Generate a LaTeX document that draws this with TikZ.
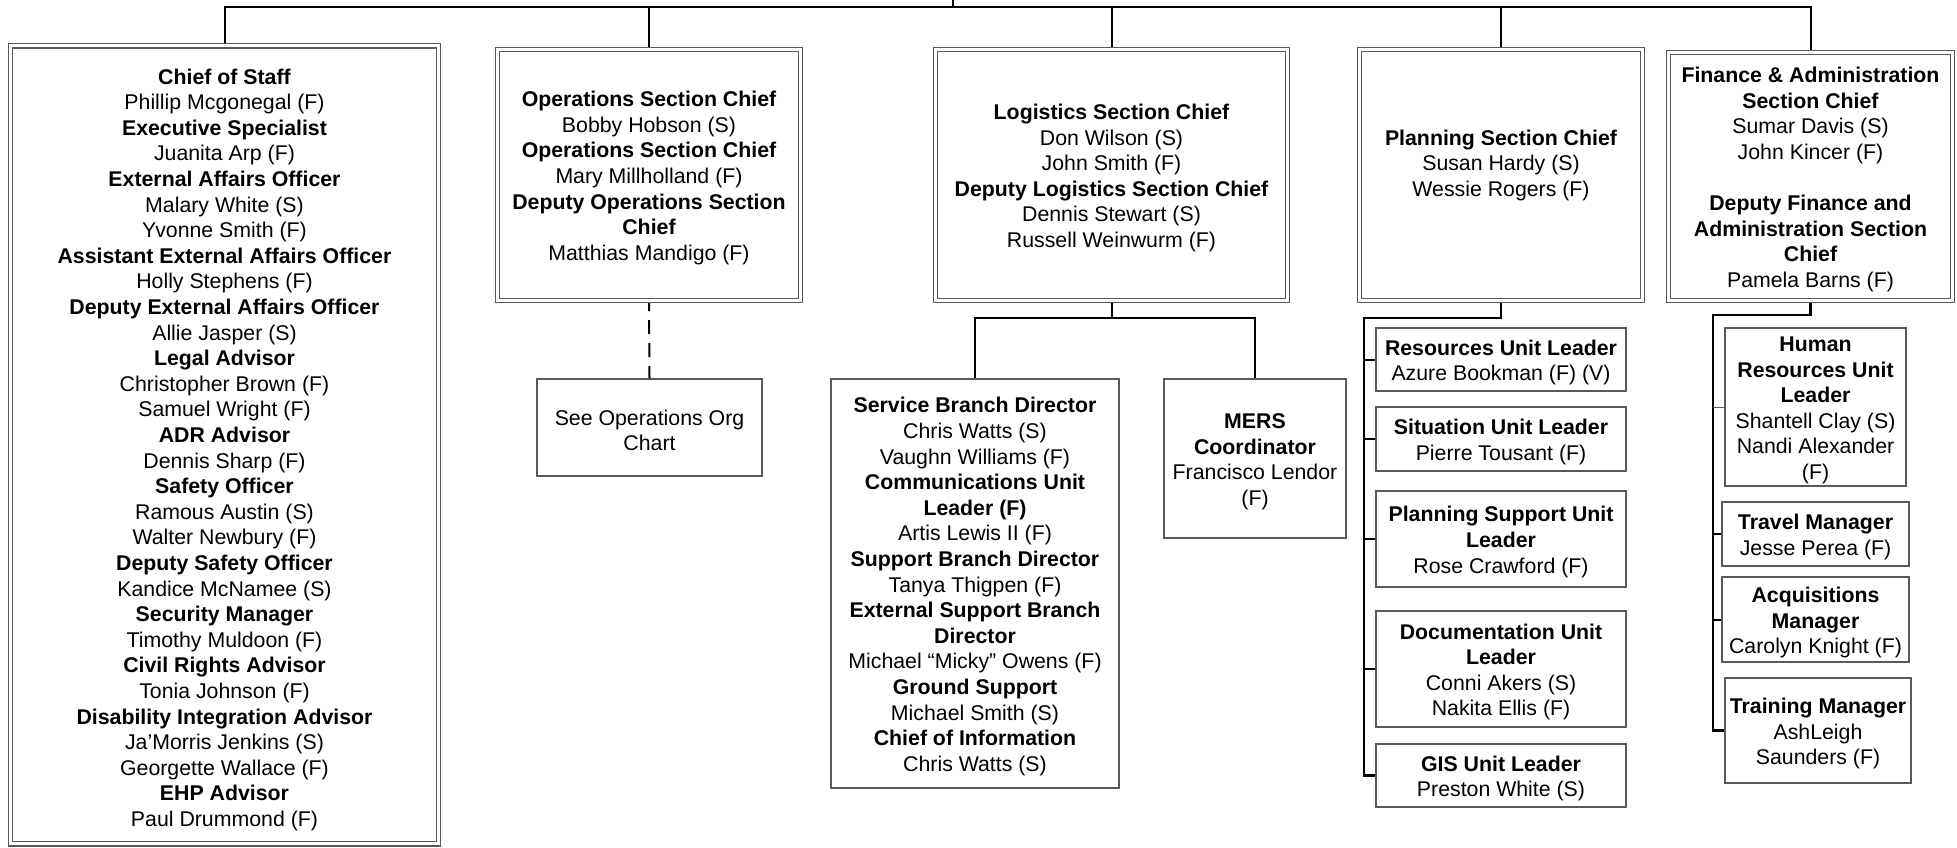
\documentclass[tikz,border=0pt]{standalone}
\usepackage{fontspec}
\setmainfont{Liberation Sans}
\definecolor{bordergray}{HTML}{5A5A5A}
\newcommand{\myfirst}{\rule{0pt}{21.5pt}}
\newcommand{\myfirstcos}{\rule{0pt}{25.5pt}}
\begin{document}
\begin{tikzpicture}[x=1pt,y=-1pt,
  every node/.style={font=\fontsize{21.3}{25.6}\selectfont, align=center, inner sep=0pt},
  dbox/.style={draw=bordergray, line width=1.3pt, double=white, double distance=3.2pt, outer sep=2.5pt},
  sbox/.style={draw=bordergray, line width=1.3pt, outer sep=0.65pt},
  conn/.style={draw=black, line width=2pt},
  brack/.style={draw=black, line width=2.6pt},
  thintick/.style={draw=bordergray, line width=1pt},
  dashconn/.style={draw=black, line width=2pt, dash pattern=on 14pt off 9pt, dash phase=6pt}
]
\useasboundingbox (0,0) rectangle (1957,847);

% ---- top-level section boxes ----
\node[dbox, minimum width=428pt, minimum height=798pt] (cos) at (224.5,444.75) {%
\myfirstcos\textbf{Chief of Staff}\\Phillip Mcgonegal (F)\\\textbf{Executive Specialist}\\Juanita Arp (F)\\\textbf{External Affairs Officer}\\Malary White (S)\\Yvonne Smith (F)\\\textbf{Assistant External Affairs Officer}\\Holly Stephens (F)\\\textbf{Deputy External Affairs Officer}\\Allie Jasper (S)\\\textbf{Legal Advisor}\\Christopher Brown (F)\\Samuel Wright (F)\\\textbf{ADR Advisor}\\Dennis Sharp (F)\\\textbf{Safety Officer}\\Ramous Austin (S)\\Walter Newbury (F)\\\textbf{Deputy Safety Officer}\\Kandice McNamee (S)\\\textbf{Security Manager}\\Timothy Muldoon (F)\\\textbf{Civil Rights Advisor}\\Tonia Johnson (F)\\\textbf{Disability Integration Advisor}\\Ja’Morris Jenkins (S)\\Georgette Wallace (F)\\\textbf{EHP Advisor}\\Paul Drummond (F)};

\node[dbox, minimum width=303pt, minimum height=251pt] (ops) at (649,175) {%
\myfirst\textbf{Operations Section Chief}\\Bobby Hobson (S)\\\textbf{Operations Section Chief}\\Mary Millholland (F)\\\textbf{Deputy Operations Section}\\\textbf{Chief}\\Matthias Mandigo (F)};

\node[dbox, minimum width=352pt, minimum height=251pt] (log) at (1111.5,175) {%
\myfirst\textbf{Logistics Section Chief}\\Don Wilson (S)\\John Smith (F)\\\textbf{Deputy Logistics Section Chief}\\Dennis Stewart (S)\\Russell Weinwurm (F)};

\node[dbox, minimum width=283pt, minimum height=251pt] (plan) at (1501,175) {%
\myfirst\textbf{Planning Section Chief}\\Susan Hardy (S)\\Wessie Rogers (F)\\\phantom{(F)}};

\node[dbox, minimum width=284pt, minimum height=248pt] (fin) at (1810.5,176.5) {%
\myfirst\textbf{Finance \& Administration}\\\textbf{Section Chief}\\Sumar Davis (S)\\John Kincer (F)\\[25.6pt]\textbf{Deputy Finance and}\\\textbf{Administration Section}\\\textbf{Chief}\\Pamela Barns (F)};

% ---- second level ----
\node[sbox, minimum width=225pt, minimum height=97pt] (see) at (649.5,427.5) {\myfirst See Operations Org\\Chart};

\node[sbox, minimum width=288pt, minimum height=409pt] (svc) at (975,583.5) {%
\myfirst\textbf{Service Branch Director}\\Chris Watts (S)\\Vaughn Williams (F)\\\textbf{Communications Unit}\\\textbf{Leader (F)}\\Artis Lewis II (F)\\\textbf{Support Branch Director}\\Tanya Thigpen (F)\\\textbf{External Support Branch}\\\textbf{Director}\\Michael “Micky” Owens (F)\\\textbf{Ground Support}\\Michael Smith (S)\\\textbf{Chief of Information}\\Chris Watts (S)};

\node[sbox, minimum width=182pt, minimum height=159pt] (mers) at (1255,458.5) {%
\myfirst\textbf{MERS}\\\textbf{Coordinator}\\Francisco Lendor\\(F)};

\node[sbox, minimum width=250pt, minimum height=63pt] (res) at (1501,359.5) {%
\myfirst\textbf{Resources Unit Leader}\\Azure Bookman (F) (V)};
\node[sbox, minimum width=250pt, minimum height=64pt] (sit) at (1501,439) {%
\myfirst\textbf{Situation Unit Leader}\\Pierre Tousant (F)};
\node[sbox, minimum width=250pt, minimum height=96pt] (psu) at (1501,539) {%
\myfirst\textbf{Planning Support Unit}\\\textbf{Leader}\\Rose Crawford (F)};
\node[sbox, minimum width=250pt, minimum height=116pt] (doc) at (1501,669) {%
\myfirst\textbf{Documentation Unit}\\\textbf{Leader}\\Conni Akers (S)\\Nakita Ellis (F)};
\node[sbox, minimum width=250pt, minimum height=63pt] (gis) at (1501,775.5) {%
\myfirst\textbf{GIS Unit Leader}\\Preston White (S)};

\node[sbox, minimum width=181pt, minimum height=158pt] (hr) at (1815.5,407) {%
\myfirst\textbf{Human}\\\textbf{Resources Unit}\\\textbf{Leader}\\Shantell Clay (S)\\Nandi Alexander\\(F)};
\node[sbox, minimum width=187pt, minimum height=64pt] (trav) at (1815.5,534) {%
\myfirst\textbf{Travel Manager}\\Jesse Perea (F)};
\node[sbox, minimum width=187pt, minimum height=85pt] (acq) at (1815.5,619.5) {%
\myfirst\textbf{Acquisitions}\\\textbf{Manager}\\Carolyn Knight (F)};
\node[sbox, minimum width=186pt, minimum height=105pt] (trn) at (1818,730.5) {%
\myfirst\textbf{Training Manager}\\AshLeigh\\Saunders (F)};

% ---- connectors ----
\coordinate (bar) at (0,7);
\coordinate (top) at (953,0);
\coordinate (lbar) at (0,318);
\coordinate (pv) at (1364,318);
\coordinate (fv) at (1713,315);

\draw[conn] (top) -- (top |- bar);
\draw[conn] (cos.north) -- (cos.north |- bar) -- (fin.north |- bar) -- (fin.north);
\draw[conn] (ops.north) -- (ops.north |- bar);
\draw[conn] (log.north) -- (log.north |- bar);
\draw[conn] (plan.north) -- (plan.north |- bar);

\draw[dashconn] (ops.south) -- (see.north);

\draw[conn] (log.south) -- (log.south |- lbar);
\draw[conn] (svc.north) -- (svc.north |- lbar) -- (mers.north |- lbar) -- (mers.north);

\draw[brack] (plan.south) |- (pv) |- (gis.west);
\draw[conn] (res.west) -- (res.west -| pv);
\draw[conn] (sit.west) -- (sit.west -| pv);
\draw[conn] (psu.west) -- (psu.west -| pv);
\draw[conn] (doc.west) -- (doc.west -| pv);

\draw[brack] (fin.south) |- (fv) |- (trn.west);
\draw[thintick] (hr.west) -- (hr.west -| fv);
\draw[conn] (trav.west) -- (trav.west -| fv);
\draw[conn] (acq.west) -- (acq.west -| fv);
\end{tikzpicture}
\end{document}
